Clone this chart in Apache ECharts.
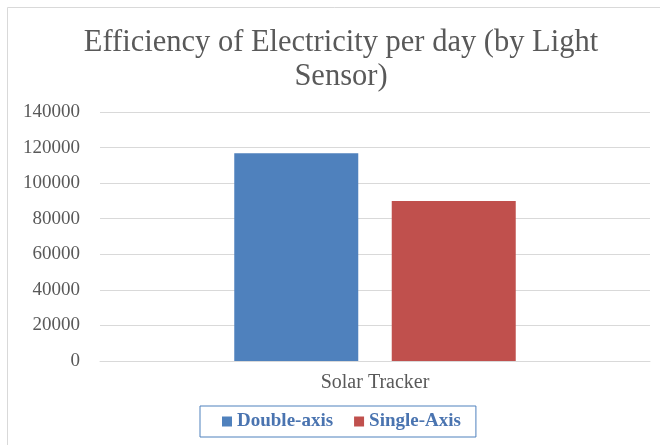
<!DOCTYPE html>
<html>
<head>
<meta charset="utf-8">
<script src="https://cdn.jsdelivr.net/npm/echarts@6/dist/echarts.min.js"></script>
<style>
html,body{margin:0;padding:0;background:#fff;}
#chart{width:660px;height:445px;}
</style>
</head>
<body>
<div id="chart"></div>
<script>
var categories = ['Solar Tracker'];
var seriesNames = ['Double-axis', 'Single-Axis'];
var doubleAxis = [116800];
var singleAxis = [90000];
var yTicks = { min: 0, max: 140000, interval: 20000 };
var titleText = 'Efficiency of Electricity per day (by Light\nSensor)';

var serif = '"Liberation Serif", "DejaVu Serif", serif';
var chart = echarts.init(document.getElementById('chart'));
chart.setOption({
  animation: false,
  backgroundColor: '#fff',
  graphic: [{
    type: 'rect',
    shape: { x: 7.5, y: 7.5, width: 700, height: 500 },
    style: { fill: 'none', stroke: '#D9D9D9', lineWidth: 1 },
    silent: true
  }],
  title: {
    text: titleText,
    left: 336,
    top: 21,
    textAlign: 'center',
    textStyle: {
      fontFamily: serif,
      fontSize: 30.5,
      fontWeight: 'normal',
      color: '#595959',
      lineHeight: 34
    }
  },
  grid: { left: 100, right: 10, top: 112, bottom: 84, containLabel: false },
  xAxis: {
    type: 'category',
    data: categories,
    axisLine: { show: true, lineStyle: { color: '#D9D9D9' } },
    axisTick: { show: false },
    axisLabel: { fontFamily: serif, fontSize: 20, color: '#595959', margin: 12 }
  },
  yAxis: {
    type: 'value',
    min: yTicks.min,
    max: yTicks.max,
    interval: yTicks.interval,
    axisLine: { show: false },
    axisTick: { show: false },
    splitLine: { lineStyle: { color: '#D9D9D9', width: 1 } },
    axisLabel: { fontFamily: serif, fontSize: 19, color: '#595959', margin: 20,
      formatter: function (v) { return String(v); } }
  },
  legend: {
    data: seriesNames,
    left: 200,
    top: 406,
    padding: [6, 15, 6, 22],
    itemGap: 21,
    itemWidth: 10,
    itemHeight: 10,
    icon: 'rect',
    borderColor: '#4F81BD',
    borderWidth: 1,
    textStyle: { fontFamily: serif, fontSize: 19, fontWeight: 'bold', color: '#4A74B0' }
  },
  series: [
    { name: seriesNames[0], type: 'bar', data: doubleAxis, barWidth: 124, barGap: '27%',
      itemStyle: { color: '#4F81BD' } },
    { name: seriesNames[1], type: 'bar', data: singleAxis, barWidth: 124,
      itemStyle: { color: '#C0504D' } }
  ]
});
</script>
</body>
</html>
